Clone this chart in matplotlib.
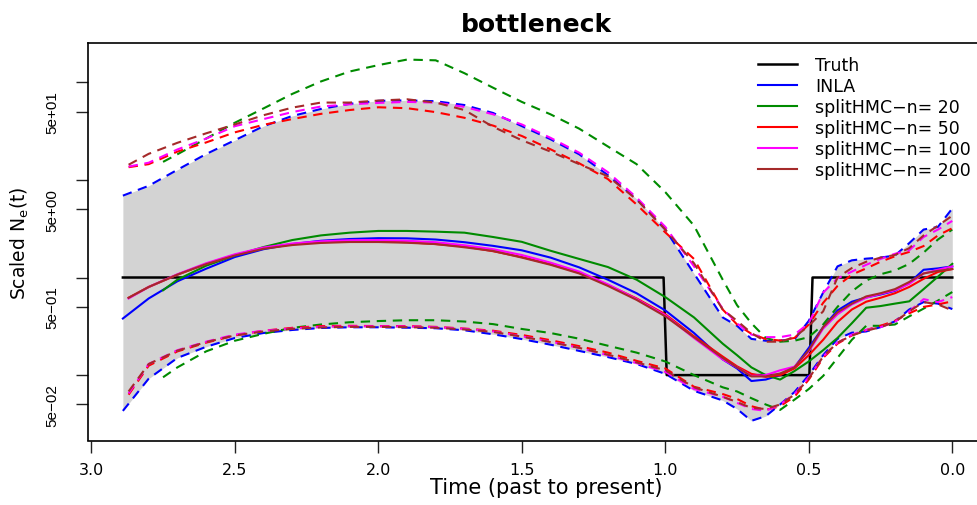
import numpy as np
import matplotlib
matplotlib.use("Agg")
import matplotlib.pyplot as plt
from matplotlib.ticker import NullLocator

# time grids (past to present)
t_inla = [2.89, 2.8, 2.7, 2.6, 2.5, 2.4, 2.3, 2.2, 2.1, 2.0, 1.9, 1.8, 1.7, 1.6, 1.5, 1.4, 1.3, 1.2, 1.1, 1.0,
          0.9, 0.8, 0.75, 0.7, 0.65, 0.6, 0.55, 0.5, 0.45, 0.4, 0.35, 0.3, 0.25, 0.2, 0.15, 0.1, 0.05, 0.0]
t_hmc = [2.87] + t_inla[1:]
t_green = [2.75] + t_inla[2:]

# truth
t_truth = [2.89, 1.006, 0.995, 0.498, 0.487, 0.0]
ne_truth = [1.0, 1.0, 0.1, 0.1, 1.0, 1.0]

# INLA
inla_med = [0.38, 0.61, 0.915, 1.23, 1.62, 1.95, 2.2, 2.38, 2.48, 2.53, 2.52, 2.45, 2.3, 2.11, 1.9, 1.6, 1.27, 0.95, 0.69, 0.46,
            0.27, 0.145, 0.117, 0.087, 0.09, 0.10, 0.12, 0.19, 0.31, 0.46, 0.565, 0.625, 0.67, 0.73, 0.88, 1.2, 1.24, 1.30]
inla_hi = [6.9, 8.7, 12.7, 18.4, 25.5, 35.5, 45.2, 53.3, 60.2, 64.6, 65.3, 64.0, 58.5, 48.5, 35.6, 26.1, 18.3, 11.2, 6.4, 3.1,
           1.1, 0.39, 0.32, 0.235, 0.225, 0.226, 0.232, 0.36, 0.70, 1.3, 1.5, 1.56, 1.6, 1.68, 2.25, 3.1, 3.3, 5.1]
inla_lo = [0.043, 0.092, 0.15, 0.195, 0.24, 0.27, 0.29, 0.304, 0.309, 0.309, 0.306, 0.302, 0.288, 0.262, 0.234, 0.205, 0.177, 0.153, 0.13, 0.103,
           0.069, 0.055, 0.045, 0.034, 0.038, 0.05, 0.067, 0.1, 0.16, 0.235, 0.272, 0.28, 0.31, 0.355, 0.47, 0.56, 0.54, 0.475]

# splitHMC n=20
g_med = [0.74, 0.95, 1.32, 1.68, 2.05, 2.42, 2.7, 2.88, 3.0, 3.0, 2.95, 2.88, 2.6, 2.32, 1.88, 1.55, 1.28, 0.95, 0.63,
         0.39, 0.21, 0.16, 0.12, 0.1, 0.09, 0.11, 0.138, 0.18, 0.24, 0.34, 0.49, 0.51, 0.54, 0.57, 0.76, 1.02, 1.38]
g_hi = [15.3, 18.3, 26.5, 38.5, 54, 76, 102, 129, 150, 171, 168, 124, 88, 63, 47, 33.5, 22, 14.5, 7.5,
        3.4, 0.95, 0.52, 0.34, 0.24, 0.22, 0.225, 0.245, 0.33, 0.5, 0.72, 0.93, 1.08, 1.18, 1.38, 1.8, 2.45, 3.1]
g_lo = [0.095, 0.12, 0.175, 0.225, 0.265, 0.305, 0.33, 0.348, 0.358, 0.365, 0.365, 0.354, 0.333, 0.297, 0.27, 0.236, 0.2, 0.17, 0.138,
        0.1, 0.075, 0.068, 0.058, 0.05, 0.044, 0.056, 0.072, 0.098, 0.15, 0.23, 0.32, 0.32, 0.33, 0.4, 0.48, 0.58, 0.71]

# splitHMC n=50
r_med = [0.62, 0.80, 1.07, 1.38, 1.70, 2.0, 2.19, 2.3, 2.35, 2.35, 2.3, 2.2, 2.08, 1.86, 1.62, 1.37, 1.12, 0.84, 0.61, 0.42,
         0.25, 0.155, 0.123, 0.103, 0.096, 0.1, 0.117, 0.16, 0.23, 0.35, 0.47, 0.565, 0.62, 0.69, 0.8, 0.97, 1.14, 1.22]
r_hi = [13.5, 14.5, 19.5, 24.2, 30.7, 36.7, 42, 47.5, 52, 55.5, 54.3, 49.5, 43.3, 36, 28.2, 20.6, 14.8, 10.2, 5.6, 2.9,
        1.55, 0.47, 0.33, 0.265, 0.234, 0.226, 0.24, 0.33, 0.55, 0.82, 1.07, 1.24, 1.45, 1.65, 1.83, 2.1, 2.7, 3.2]
r_lo = [0.063, 0.125, 0.175, 0.215, 0.255, 0.285, 0.305, 0.318, 0.32, 0.318, 0.318, 0.312, 0.3, 0.285, 0.258, 0.228, 0.198, 0.17, 0.14, 0.117,
        0.076, 0.064, 0.057, 0.048, 0.044, 0.048, 0.06, 0.09, 0.15, 0.21, 0.255, 0.29, 0.32, 0.36, 0.43, 0.5, 0.53, 0.57]

# splitHMC n=100
m_med = [0.61, 0.80, 1.08, 1.40, 1.73, 2.03, 2.23, 2.35, 2.41, 2.42, 2.38, 2.3, 2.14, 1.95, 1.7, 1.42, 1.15, 0.85, 0.6, 0.41,
         0.24, 0.145, 0.12, 0.098, 0.1, 0.112, 0.122, 0.175, 0.3, 0.42, 0.53, 0.62, 0.68, 0.74, 0.86, 1.1, 1.2, 1.3]
m_hi = [13.7, 15, 20.5, 26.5, 35.5, 42, 49.5, 56.5, 59.5, 61.5, 63, 62, 56, 47, 37, 27, 19, 12, 6.6, 3.3,
        1.3, 0.48, 0.34, 0.26, 0.245, 0.245, 0.26, 0.34, 0.7, 0.98, 1.15, 1.35, 1.55, 1.75, 1.9, 2.6, 3.1, 3.8]
m_lo = [0.065, 0.13, 0.18, 0.22, 0.26, 0.285, 0.3, 0.312, 0.316, 0.316, 0.315, 0.31, 0.298, 0.28, 0.25, 0.22, 0.19, 0.16, 0.133, 0.108,
        0.072, 0.06, 0.052, 0.045, 0.043, 0.05, 0.064, 0.095, 0.155, 0.215, 0.26, 0.29, 0.31, 0.35, 0.45, 0.6, 0.56, 0.63]

# splitHMC n=200
b_med = [0.62, 0.80, 1.07, 1.37, 1.68, 1.97, 2.15, 2.26, 2.31, 2.31, 2.27, 2.2, 2.04, 1.87, 1.6, 1.35, 1.1, 0.82, 0.59, 0.4,
         0.245, 0.15, 0.12, 0.097, 0.097, 0.104, 0.12, 0.18, 0.31, 0.44, 0.54, 0.64, 0.69, 0.76, 0.9, 1.1, 1.17, 1.22]
b_hi = [14.3, 18.5, 24, 30, 37, 46, 55, 62, 62, 65, 67, 62, 52, 35, 25.5, 19.5, 14.5, 10.9, 6.3, 3.1,
        1.4, 0.47, 0.36, 0.27, 0.22, 0.22, 0.245, 0.32, 0.45, 1.0, 1.25, 1.45, 1.6, 1.7, 2.0, 2.7, 3.4, 4.3]
b_lo = [0.068, 0.13, 0.178, 0.218, 0.255, 0.28, 0.298, 0.308, 0.312, 0.312, 0.31, 0.306, 0.294, 0.277, 0.248, 0.218, 0.19, 0.162, 0.135, 0.112,
        0.075, 0.06, 0.053, 0.046, 0.045, 0.05, 0.063, 0.092, 0.155, 0.215, 0.255, 0.285, 0.31, 0.35, 0.45, 0.56, 0.53, 0.46]

labels = ["Truth", "INLA", "splitHMC\u2212n= 20", "splitHMC\u2212n= 50",
          "splitHMC\u2212n= 100", "splitHMC\u2212n= 200"]
GREEN = "#008B00"
BROWN = "#A52A2A"
dash = (0, (4.5, 3.2))
lw = 1.5

W, H = 977, 506
fig = plt.figure(figsize=(W / 100, H / 100), dpi=100)
ax = fig.add_axes([88 / W, 1 - 441.5 / H, (985.5 - 88) / W, (441.5 - 44.3) / H])
ax.set_yscale("log")

ax.fill_between(t_inla, inla_lo, inla_hi, color="lightgray", lw=0)
h_truth, = ax.plot(t_truth, ne_truth, color="black", lw=1.8)

ax.plot(t_inla, inla_hi, color="blue", lw=lw, ls=dash)
ax.plot(t_inla, inla_lo, color="blue", lw=lw, ls=dash)
h_inla, = ax.plot(t_inla, inla_med, color="blue", lw=lw)

handles = [h_truth, h_inla]
for tt, med, hi, lo, col in [(t_green, g_med, g_hi, g_lo, GREEN),
                             (t_hmc, r_med, r_hi, r_lo, "red"),
                             (t_hmc, m_med, m_hi, m_lo, "magenta"),
                             (t_hmc, b_med, b_hi, b_lo, BROWN)]:
    ax.plot(tt, hi, color=col, lw=lw, ls=dash)
    ax.plot(tt, lo, color=col, lw=lw, ls=dash)
    h, = ax.plot(tt, med, color=col, lw=lw)
    handles.append(h)

ax.set_xlim(3.0115, -0.1157)
ax.set_ylim(0.02138, 251)

xt = [3.0, 2.5, 2.0, 1.5, 1.0, 0.5, 0.0]
ax.set_xticks(xt, ["%.1f" % v for v in xt])
yt = [0.05, 0.1, 0.5, 1, 5, 10, 50, 100]
ax.set_yticks(yt, ["5e\u221202", "", "5e\u221201", "", "5e+00", "", "5e+01", ""])
ax.yaxis.set_minor_locator(NullLocator())
ax.tick_params(axis="both", direction="out", length=8.5, width=1, color="#222222")
ax.tick_params(axis="x", labelsize=11.5, pad=7)
ax.tick_params(axis="y", pad=12, labelsize=11, labelrotation=90,
               labelfontfamily="Liberation Sans")
for lbl in ax.get_yticklabels():
    lbl.set_va("center")
for s in ax.spines.values():
    s.set_linewidth(1.2)
ax.spines["right"].set_visible(False)

ax.set_title("bottleneck", fontsize=18, fontweight="bold", pad=8.6)
ax.set_xlabel("Time (past to present)", fontsize=15)
ax.xaxis.set_label_coords(0.511, -0.091)
ax.set_ylabel(r"Scaled N$_{\mathrm{e}}$(t)", fontsize=13.5)
ax.yaxis.set_label_coords(-0.063, 0.5)

ax.legend(handles, labels, loc="upper left", bbox_to_anchor=(757.7 / W, 1 - 57 / H),
          bbox_transform=fig.transFigure, frameon=False, borderpad=0, borderaxespad=0,
          handlelength=2.25, handletextpad=1.05, labelspacing=0.17, fontsize=12.5)

fig.savefig("out.png", dpi=100)
